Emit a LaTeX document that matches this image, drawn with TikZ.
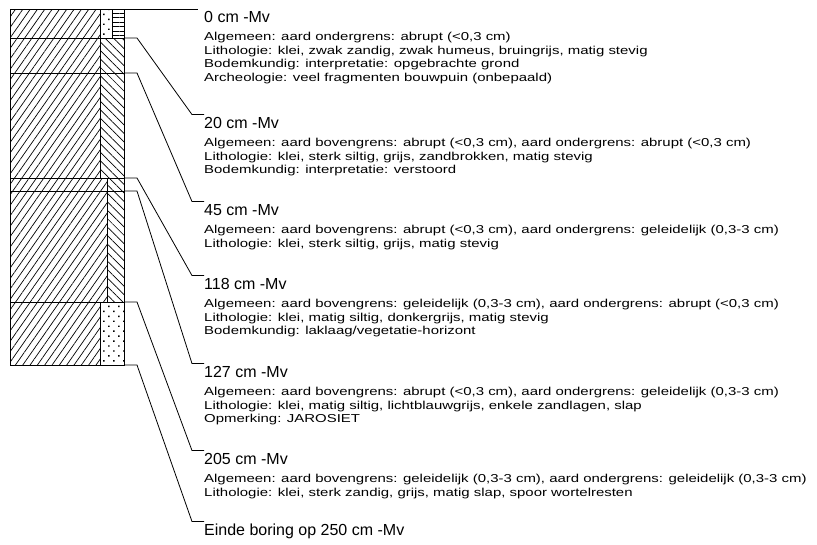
\documentclass[tikz,border=0pt]{standalone}
\usepackage{fontspec}
\setmainfont{Liberation Sans}
\newfontfamily\smallfont[FakeStretch=1.3]{Liberation Sans}
\usetikzlibrary{patterns.meta,positioning}

\begin{document}
\begin{tikzpicture}[x=1pt,y=-1pt,
    lead/.style={line width=0.8pt},
    slash/.style={pattern={Lines[angle=55,distance=6pt,line width=0.7pt]}},
    backslash/.style={pattern={Lines[angle=-45,distance=6pt,line width=0.7pt]}},
    dotfill/.style={pattern={Dots[angle=45,distance=7pt,radius=1pt]}},
    hlines/.style={pattern={Lines[angle=0,distance=4.5pt,line width=0.7pt]}},
    depth/.style={anchor=west,inner sep=0pt,text height=11.5pt,text depth=3pt,font=\fontsize{16}{18}\selectfont},
    info/.style={inner sep=0pt,align=left,font=\smallfont\fontsize{11.5}{13.5}\selectfont}]
  \useasboundingbox (0,0) rectangle (817,544);

  % boring column
  \fill[slash] (10,9) rectangle (100,178);
  \fill[slash] (10,178) rectangle (107,302);
  \fill[slash] (10,302) rectangle (100,365);
  \fill[dotfill] (100,9) rectangle (112,38);
  \fill[hlines] (112,9) rectangle (124,38);
  \fill[backslash] (100,38) rectangle (124,178);
  \fill[backslash] (107,178) rectangle (124,302);
  \fill[dotfill] (100,302) rectangle (124,365);
  \draw[line width=0.8pt] (10,9) rectangle (124,365);
  \draw[line width=0.8pt] (100,9) -- (100,178) (112,9) -- (112,38) (107,178) -- (107,302) (100,302) -- (100,365);
  \foreach \y in {38,73,178,191,302} \draw[line width=0.8pt] (10,\y) -- (124,\y);

  \coordinate (b0) at (124,9);
  \coordinate (b20) at (124,38);
  \coordinate (b45) at (124,73);
  \coordinate (b118) at (124,178);
  \coordinate (b127) at (124,191);
  \coordinate (b205) at (124,302);
  \coordinate (b250) at (124,365);

  % layer descriptions
  \node[depth] (h0) at (204,18) {0 cm -Mv};
  \node[info,below right=7pt and 0pt of h0.south west] (i0) {Algemeen: aard ondergrens: abrupt (<0,3 cm)\\
    Lithologie: klei, zwak zandig, zwak humeus, bruingrijs, matig stevig\\
    Bodemkundig: interpretatie: opgebrachte grond\\
    Archeologie: veel fragmenten bouwpuin (onbepaald)};

  \node[depth] (h20) at (204,124) {20 cm -Mv};
  \node[info,below right=7pt and 0pt of h20.south west] (i20) {Algemeen: aard bovengrens: abrupt (<0,3 cm), aard ondergrens: abrupt (<0,3 cm)\\
    Lithologie: klei, sterk siltig, grijs, zandbrokken, matig stevig\\
    Bodemkundig: interpretatie: verstoord};

  \node[depth] (h45) at (204,211) {45 cm -Mv};
  \node[info,below right=7pt and 0pt of h45.south west] (i45) {Algemeen: aard bovengrens: abrupt (<0,3 cm), aard ondergrens: geleidelijk (0,3-3 cm)\\
    Lithologie: klei, sterk siltig, grijs, matig stevig};

  \node[depth] (h118) at (204,285) {118 cm -Mv};
  \node[info,below right=7pt and 0pt of h118.south west] (i118) {Algemeen: aard bovengrens: geleidelijk (0,3-3 cm), aard ondergrens: abrupt (<0,3 cm)\\
    Lithologie: klei, matig siltig, donkergrijs, matig stevig\\
    Bodemkundig: laklaag/vegetatie-horizont};

  \node[depth] (h127) at (204,373) {127 cm -Mv};
  \node[info,below right=7pt and 0pt of h127.south west] (i127) {Algemeen: aard bovengrens: abrupt (<0,3 cm), aard ondergrens: geleidelijk (0,3-3 cm)\\
    Lithologie: klei, matig siltig, lichtblauwgrijs, enkele zandlagen, slap\\
    Opmerking: JAROSIET};

  \node[depth] (h205) at (204,460) {205 cm -Mv};
  \node[info,below right=7pt and 0pt of h205.south west] (i205) {Algemeen: aard bovengrens: geleidelijk (0,3-3 cm), aard ondergrens: geleidelijk (0,3-3 cm)\\
    Lithologie: klei, sterk zandig, grijs, matig slap, spoor wortelresten};

  \node[depth] (h250) at (204,531) {Einde boring op 250 cm -Mv};

  % leader lines
  \draw[lead] (b0) -- ([xshift=-6pt]b0 -| h0.west);
  \foreach \d in {20,45,118,127,205,250}
    \draw[lead] (b\d) -- ++(13,0) -- ([shift={(-12pt,2pt)}]h\d.north west) -- ([yshift=2pt]h\d.north west);
\end{tikzpicture}
\end{document}
